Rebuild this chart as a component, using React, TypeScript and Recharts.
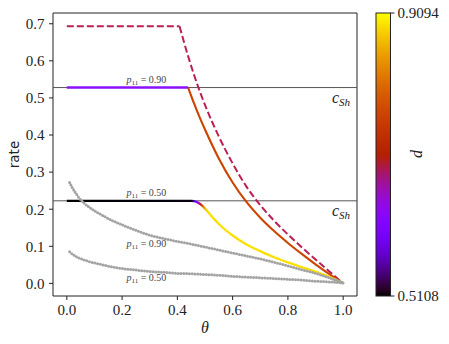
import React from 'react';
import { LineChart, Line, XAxis, YAxis, ReferenceLine, ReferenceArea, ReferenceDot } from 'recharts';

// ---------- data ----------
const xTicks = [0, 0.2, 0.4, 0.6, 0.8, 1.0];
const yTicks = [0, 0.1, 0.2, 0.3, 0.4, 0.5, 0.6, 0.7];
const cShValues = [0.528, 0.2226];
const cbarTicks = ['0.9094', '0.5108'];

// dashed upper bound
const dashedFlatTheta = [0, 0.408];
const dashedFlatRate = [0.693, 0.693];
const dashedCurveTheta = [0.408, 0.44, 0.47, 0.5, 0.55, 0.6, 0.65, 0.7, 0.75, 0.8, 0.85, 0.9, 0.95, 1.0];
const dashedCurveRate = [0.693, 0.61, 0.541, 0.481, 0.396, 0.3235, 0.261, 0.211, 0.169, 0.132, 0.0975, 0.0645, 0.032, 0.0];

// p11 = 0.90 solid
const p90FlatTheta = [0, 0.439];
const p90FlatRate = [0.528, 0.528];
const p90CurveTheta = [0.439, 0.46, 0.48, 0.5, 0.55, 0.6, 0.65, 0.7, 0.75, 0.8, 0.85, 0.9, 0.95, 1.0];
const p90CurveRate = [0.528, 0.486, 0.449, 0.415, 0.337, 0.272, 0.2195, 0.177, 0.141, 0.109, 0.0795, 0.0515, 0.025, 0.0];

// p11 = 0.50 solid
const p50Theta = [0, 0.1, 0.2, 0.3, 0.4, 0.45, 0.46, 0.47, 0.48, 0.49, 0.5, 0.525, 0.55, 0.6, 0.65, 0.7, 0.75, 0.8, 0.85, 0.9, 0.95, 1.0];
const p50Rate = [0.2226, 0.2226, 0.2226, 0.2226, 0.2226, 0.2226, 0.2218, 0.2195, 0.2155, 0.2095, 0.202, 0.18, 0.16, 0.129, 0.105, 0.087, 0.0705, 0.0565, 0.044, 0.0315, 0.0175, 0.0];

// grey dotted curves
const greyTheta = [0.01, 0.02, 0.03, 0.04, 0.06, 0.08, 0.1, 0.13, 0.16, 0.2, 0.25, 0.3, 0.35, 0.4, 0.45, 0.5, 0.55, 0.6, 0.65, 0.7, 0.75, 0.8, 0.85, 0.9, 0.95, 1.0];
const greyHiRate = [0.272, 0.258, 0.246, 0.235, 0.218, 0.206, 0.196, 0.183, 0.171, 0.158, 0.143, 0.13, 0.121, 0.113, 0.106, 0.098, 0.09, 0.082, 0.074, 0.066, 0.057, 0.047, 0.037, 0.027, 0.015, 0.002];
const greyLoRate = [0.085, 0.079, 0.074, 0.07, 0.064, 0.059, 0.055, 0.05, 0.045, 0.04, 0.036, 0.032, 0.03, 0.027, 0.026, 0.024, 0.022, 0.019, 0.017, 0.015, 0.013, 0.011, 0.009, 0.006, 0.004, 0.001];

// annotation labels
const annText = ['0.90', '0.50', '0.90', '0.50'];
const annTheta = [0.288, 0.288, 0.288, 0.288];
const annRate = [0.548, 0.243, 0.107, 0.0155];

const zip = (xs: number[], ys: number[]) => xs.map((x, i) => ({ x, y: ys[i] }));

// ---------- style ----------
const W = 449;
const H = 344;
const SERIF = "Liberation Serif, 'Times New Roman', Times, serif";
const SANS = "DejaVu Sans, sans-serif";
const gnuplot = (t: number) => {
  const r = Math.sqrt(t);
  const g = t * t * t;
  const b = Math.max(0, Math.sin(2 * Math.PI * t));
  const h = (v: number) => Math.round(Math.min(1, Math.max(0, v)) * 255).toString(16).padStart(2, '0');
  return '#' + h(r) + h(g) + h(b);
};

const CshLabel = (props: any) => {
  const vb = props.viewBox || {};
  const x = (vb.x || 0) + (vb.width || 0) - 7;
  const y = (vb.y || 0) + 15;
  return (
    <text x={x} y={y} textAnchor="end" style={{ fontFamily: SERIF, fontStyle: 'italic', fontSize: 16 }} fill="#222">
      c<tspan style={{ fontSize: 11 }} dy={3}>Sh</tspan>
    </text>
  );
};

const makeAnn = (val: string) => (props: any) => {
  const vb = props.viewBox || {};
  const x = vb.x || 0;
  const y = vb.y || 0;
  return (
    <text x={x} y={y + 3} textAnchor="middle" style={{ fontFamily: SERIF, fontSize: 10 }} fill="#444">
      <tspan style={{ fontStyle: 'italic' }}>p</tspan>
      <tspan style={{ fontSize: 7 }} dy={2}>11</tspan>
      <tspan dy={-2}>{' = ' + val}</tspan>
    </text>
  );
};

const XTitle = (props: any) => {
  const vb = props.viewBox || {};
  const cx = (vb.x || 0) + (vb.width || 0) / 2;
  return (
    <text x={cx} y={333} textAnchor="middle" style={{ fontFamily: SERIF, fontStyle: 'italic', fontSize: 16 }} fill="#222">θ</text>
  );
};

const YTitle = (props: any) => {
  const vb = props.viewBox || {};
  const cy = (vb.y || 0) + (vb.height || 0) / 2;
  return (
    <text x={14} y={cy} transform={`rotate(-90 14 ${cy})`} textAnchor="middle" dominantBaseline="central" style={{ fontFamily: SANS, fontSize: 13.5 }} fill="#222">rate</text>
  );
};

const tickStyle = { fill: '#222', fontFamily: SERIF, fontSize: 15, style: { fontFamily: SERIF } };

export default function App() {
  const stops: number[] = [];
  for (let i = 0; i <= 50; i++) stops.push(i / 50);
  const cbX = 376;
  const cbTop = 13;
  const cbBot = 296;
  const cbW = 14.5;
  return (
    <div style={{ position: 'absolute', left: 0, top: 0, width: W, height: H, background: '#fff', fontFamily: SERIF }}>
      <LineChart width={W} height={H} margin={{ top: 13, right: 92, bottom: 0, left: 0 }} style={{ fontFamily: SERIF }}>
        <defs>
          <linearGradient id="g50" x1="0" y1="0" x2="1" y2="0">
            <stop offset="0" stopColor="#000000" />
            <stop offset="0.452" stopColor="#060010" />
            <stop offset="0.462" stopColor="#5a00e0" />
            <stop offset="0.472" stopColor="#8c00ff" />
            <stop offset="0.48" stopColor="#b01080" />
            <stop offset="0.487" stopColor="#cc3a00" />
            <stop offset="0.495" stopColor="#e08000" />
            <stop offset="0.503" stopColor="#f5cc00" />
            <stop offset="0.515" stopColor="#fbe000" />
            <stop offset="1" stopColor="#fbe000" />
          </linearGradient>
        </defs>
        <XAxis
          type="number"
          dataKey="x"
          domain={[-0.05, 1.05]}
          ticks={xTicks}
          tickFormatter={(v: number) => v.toFixed(1)}
          height={48}
          tickSize={4}
          tickMargin={4}
          axisLine={false}
          tickLine={{ stroke: '#222' }}
          tick={tickStyle}
          allowDataOverflow
          label={<XTitle />}
        />
        <YAxis
          type="number"
          dataKey="y"
          domain={[-0.034, 0.729]}
          ticks={yTicks}
          tickFormatter={(v: number) => v.toFixed(1)}
          width={53}
          tickSize={4}
          tickMargin={4.5}
          axisLine={false}
          tickLine={{ stroke: '#222' }}
          tick={tickStyle}
          allowDataOverflow
          label={<YTitle />}
        />
        {cShValues.map((v, i) => (
          <ReferenceLine key={'c' + i} y={v} stroke="#555" strokeWidth={1} label={<CshLabel />} />
        ))}
        <Line data={zip(dashedFlatTheta, dashedFlatRate)} dataKey="y" type="linear" stroke="#bb1f55" strokeWidth={2} strokeDasharray="7 3" dot={false} isAnimationActive={false} />
        <Line data={zip(dashedCurveTheta, dashedCurveRate)} dataKey="y" type="monotone" stroke="#bb1f55" strokeWidth={2} strokeDasharray="7 3" dot={false} isAnimationActive={false} />
        <Line data={zip(p90FlatTheta, p90FlatRate)} dataKey="y" type="linear" stroke="#8b10ff" strokeWidth={2.6} dot={false} isAnimationActive={false} />
        <Line data={zip(p90CurveTheta, p90CurveRate)} dataKey="y" type="monotone" stroke="#cc4400" strokeWidth={2.1} dot={false} isAnimationActive={false} />
        <Line data={zip(p50Theta, p50Rate)} dataKey="y" type="monotone" stroke="url(#g50)" strokeWidth={2.3} dot={false} isAnimationActive={false} />
        <Line data={zip(greyTheta, greyHiRate)} dataKey="y" type="monotone" stroke="#a4a4a4" strokeWidth={3} strokeDasharray="0 2.8" strokeLinecap="round" dot={false} isAnimationActive={false} />
        <Line data={zip(greyTheta, greyLoRate)} dataKey="y" type="monotone" stroke="#a4a4a4" strokeWidth={3} strokeDasharray="0 2.8" strokeLinecap="round" dot={false} isAnimationActive={false} />
        {annText.map((t, i) => (
          <ReferenceDot key={'a' + i} x={annTheta[i]} y={annRate[i]} r={0} fill="none" stroke="none" label={makeAnn(t)} />
        ))}
        <ReferenceArea x1={-0.05} x2={1.05} y1={-0.034} y2={0.729} fill="none" stroke="#222" strokeWidth={1} ifOverflow="visible" />
      </LineChart>
      <svg width={W} height={H} style={{ position: 'absolute', left: 0, top: 0, pointerEvents: 'none' }}>
        <defs>
          <linearGradient id="cbar" x1="0" y1="1" x2="0" y2="0">
            {stops.map((s) => (
              <stop key={s} offset={s} stopColor={gnuplot(s)} />
            ))}
          </linearGradient>
        </defs>
        <rect x={cbX} y={cbTop} width={cbW} height={cbBot - cbTop} fill="url(#cbar)" stroke="#222" strokeWidth={1} />
        <line x1={cbX + cbW} x2={cbX + cbW + 4} y1={cbTop} y2={cbTop} stroke="#222" />
        <line x1={cbX + cbW} x2={cbX + cbW + 4} y1={cbBot} y2={cbBot} stroke="#222" />
        <text x={cbX + cbW + 7} y={cbTop} dominantBaseline="central" style={{ fontFamily: SERIF, fontSize: 15 }} fill="#222">{cbarTicks[0]}</text>
        <text x={cbX + cbW + 7} y={cbBot} dominantBaseline="central" style={{ fontFamily: SERIF, fontSize: 15 }} fill="#222">{cbarTicks[1]}</text>
        <text x={416} y={154} transform="rotate(-90 416 154)" textAnchor="middle" dominantBaseline="central" style={{ fontFamily: SERIF, fontStyle: 'italic', fontSize: 16 }} fill="#222">d</text>
      </svg>
    </div>
  );
}
